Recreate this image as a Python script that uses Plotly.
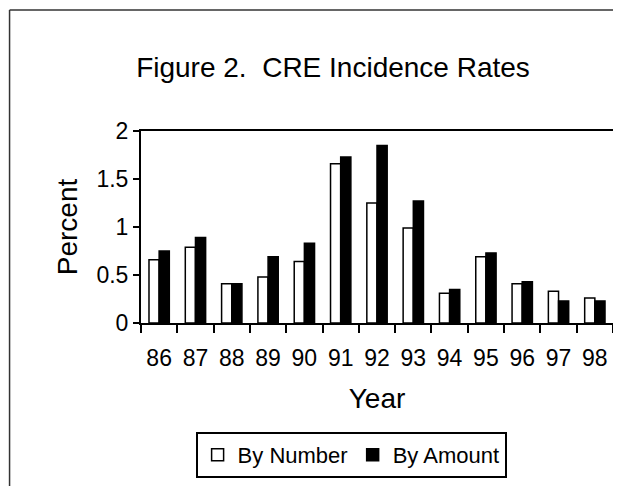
import plotly.graph_objects as go

# Données
years = ['86', '87', '88', '89', '90', '91', '92', '93', '94', '95', '96', '97', '98']
by_number = [0.66, 0.79, 0.41, 0.48, 0.64, 1.66, 1.25, 0.99, 0.31, 0.69, 0.41, 0.33, 0.26]
by_amount = [0.75, 0.89, 0.41, 0.69, 0.83, 1.73, 1.85, 1.27, 0.35, 0.73, 0.43, 0.23, 0.23]
y_ticks = [0, 0.5, 1, 1.5, 2]

# la page ajoute une marge de 8 px autour de la figure
OFF = 8
W, H = 621 - OFF, 486 - OFF
L, R, T, B = 141 - OFF, 615 - OFF, 131 - OFF, 323 - OFF  # zone de tracé


def px_x(v):
    return (v - OFF - L) / (R - L)


def px_y(v):
    return (B - (v - OFF)) / (B - T)


font = 'Liberation Sans, Arial, sans-serif'

fig = go.Figure()
fig.add_trace(go.Bar(
    x=years, y=by_number, name='By Number',
    marker=dict(color='white', line=dict(color='black', width=1.5)),
))
fig.add_trace(go.Bar(
    x=years, y=by_amount, name='By Amount',
    marker=dict(color='black', line=dict(color='black', width=1.5)),
))

# cadre extérieur : seuls les bords gauche et haut sont visibles
frame = dict(type='line', xref='paper', yref='paper',
             line=dict(color='#333333', width=1.5), layer='below')

fig.update_layout(
    width=W, height=H,
    margin=dict(l=L, r=W - R, t=T, b=H - B),
    paper_bgcolor='white', plot_bgcolor='white',
    font=dict(family=font, size=23, color='black'),
    barmode='group', bargap=0.44, bargroupgap=0,
    title=dict(text='Figure 2.  CRE Incidence Rates', font=dict(size=28),
               xref='container', yref='container',
               x=(333 - OFF) / W, y=1 - (67 - OFF) / H,
               xanchor='center', yanchor='middle'),
    xaxis=dict(
        type='category', tickson='boundaries', ticks='outside', ticklen=8,
        tickwidth=2, tickcolor='black', showline=True, linecolor='black',
        linewidth=2, mirror=True, showgrid=False, range=[-0.5, 12.5],
        ticklabelstandoff=13,
        title=dict(text='Year', standoff=19),
    ),
    xaxis2=dict(
        overlaying='x', anchor='y', side='bottom', range=[-0.5, 12.5],
        tickmode='array', tickvals=[i - 0.5 for i in range(len(years) + 1)],
        ticks='inside', ticklen=6, tickwidth=2, tickcolor='black',
        showticklabels=False, showline=False, showgrid=False, zeroline=False,
    ),
    yaxis=dict(
        range=[0, 2], tickvals=y_ticks, ticks='outside', ticklen=6,
        tickwidth=2, tickcolor='black', showline=True, linecolor='black',
        linewidth=2, mirror=True, showgrid=False, zeroline=False,
        title=dict(text='Percent', standoff=11),
    ),
    showlegend=True,
    legend=dict(
        orientation='h', x=px_x(352), xanchor='center', y=px_y(432),
        yanchor='top', bordercolor='black', borderwidth=2,
        font=dict(size=22), itemwidth=30, traceorder='normal',
    ),
    shapes=[
        dict(frame, x0=px_x(9), x1=px_x(9), y0=px_y(486), y1=px_y(10)),
        dict(frame, x0=px_x(9), x1=px_x(621), y0=px_y(10), y1=px_y(10)),
    ],
)

fig.write_html('out.html')
